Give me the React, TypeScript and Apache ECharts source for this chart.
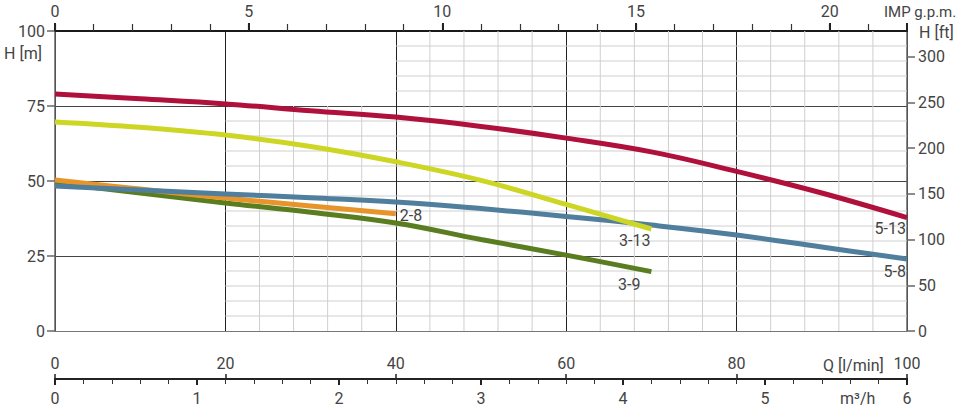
import React, { useEffect, useRef } from "react";
import * as echarts from "echarts";

// Flow (l/min) and head (m) values
const flow513 = [0, 10, 20, 30, 40, 50, 60, 70, 80, 90, 100];
const head513 = [79, 77.4, 75.7, 73.4, 71.3, 68.2, 64.3, 59.7, 53.2, 46, 37.8];
const flow58 = [0, 10, 20, 30, 40, 50, 60, 70, 80, 90, 100];
const head58 = [48.3, 47, 45.7, 44.4, 43, 40.8, 38.2, 35.3, 32, 28, 24];
const flow313 = [0, 10, 20, 30, 40, 50, 60, 70];
const head313 = [69.7, 67.9, 65.3, 61.5, 56.4, 50.2, 42.2, 34];
const flow28 = [0, 10, 20, 30, 40];
const head28 = [50.3, 47.3, 44.3, 41.7, 39.1];
const flow39 = [0, 10, 20, 30, 40, 50, 60, 70];
const head39 = [49.3, 46, 42.7, 39.6, 36, 30.5, 25.3, 19.8];

// fine grid positions
const fineQLow = [24, 28, 32, 36];
const fineQHigh = [44, 48, 52, 56, 64, 68, 72, 76, 84, 88, 92, 96];
const fineHLow = [5, 10, 15, 20, 30, 35, 40, 45, 55, 60, 65, 70];
const fineHHigh = [80, 85, 90, 95];

const Q_MAX = 100;
const H_MAX = 100;
const GPM_MAX = 100 / 4.54609;
const FT_MAX = 100 / 0.3048;
const M3H_MAX = 6;

const FONT = "Roboto";
const TXT = "#444";

export default function App() {
  const ref = useRef<HTMLDivElement>(null);
  useEffect(() => {
    if (!ref.current) return;
    const chart = echarts.init(ref.current, undefined, { renderer: "svg" });

    const gridSegs: number[][] = [];
    fineQLow.forEach((q) => gridSegs.push([q, 0, q, 75]));
    fineQHigh.forEach((q) => gridSegs.push([q, 0, q, 100]));
    fineHLow.forEach((h) => gridSegs.push([20, h, 100, h]));
    fineHHigh.forEach((h) => gridSegs.push([40, h, 100, h]));

    const mk = (qs: number[], hs: number[]) => qs.map((q, i) => [q, hs[i]]);

    const curve = (
      name: string,
      qs: number[],
      hs: number[],
      color: string,
      align: string,
      offset: number[]
    ) => ({
      type: "line",
      name,
      xAxisIndex: 0,
      yAxisIndex: 0,
      data: mk(qs, hs),
      smooth: 0.4,
      showSymbol: false,
      symbol: "none",
      z: 3,
      lineStyle: { color, width: 5, cap: "butt" },
      itemStyle: { color },
      endLabel: {
        show: true,
        formatter: name,
        distance: 0,
        align,
        verticalAlign: "middle",
        offset,
        color: TXT,
        fontSize: 16,
        fontFamily: FONT,
      },
      silent: true,
    });

    const labelStyle = { color: TXT, fontSize: 16, fontFamily: FONT };
    const txt = (text: string, x: number, y: number, size = 16) => ({
      type: "text",
      x,
      y,
      silent: true,
      style: {
        text,
        fill: TXT,
        fontSize: size,
        fontFamily: FONT,
        align: "left",
        verticalAlign: "middle",
        textAlign: "left",
        textVerticalAlign: "middle",
      },
    });

    chart.setOption({
      animation: false,
      grid: { left: 55, right: 53, top: 31, bottom: 81, containLabel: false },
      xAxis: [
        {
          type: "value",
          min: 0,
          max: Q_MAX,
          interval: 20,
          position: "bottom",
          offset: 48,
          axisLine: { show: true, onZero: false, lineStyle: { color: "#222", width: 2 } },
          axisTick: { show: true, inside: true, length: 5, lineStyle: { color: "#222", width: 1.5 } },
          axisLabel: { ...labelStyle, inside: true, margin: 8, showMinLabel: true, showMaxLabel: true },
          splitLine: { show: true, lineStyle: { color: "#222", width: 1 } },
        },
        {
          type: "value",
          min: 0,
          max: M3H_MAX,
          interval: 1,
          position: "bottom",
          offset: 48,
          axisLine: { show: true, onZero: false, lineStyle: { color: "#222", width: 2 } },
          axisTick: { show: true, length: 6, lineStyle: { color: "#222", width: 2 } },
          minorTick: { show: true, splitNumber: 5, length: 5, lineStyle: { color: "#333", width: 1 } },
          axisLabel: { ...labelStyle, margin: 11 },
          splitLine: { show: false },
        },
        {
          type: "value",
          min: 0,
          max: GPM_MAX,
          interval: 1,
          position: "top",
          axisLine: { show: true, onZero: false, lineStyle: { color: "#1a1a1a", width: 2 } },
          axisTick: { show: true, length: 7, lineStyle: { color: "#333", width: 1.2 } },
          axisLabel: {
            ...labelStyle,
            margin: 12,
            showMaxLabel: false,
            formatter: (v: number) => (Math.abs(v % 5) < 1e-6 ? String(v) : ""),
          },
          splitLine: { show: false },
        },
        {
          type: "value",
          min: 0,
          max: GPM_MAX,
          interval: 5,
          position: "top",
          axisLine: { show: false, onZero: false },
          axisTick: { show: true, length: 8, lineStyle: { color: "#222", width: 2 } },
          axisLabel: { show: false },
          splitLine: { show: false },
        },
      ],
      yAxis: [
        {
          type: "value",
          min: 0,
          max: H_MAX,
          interval: 25,
          position: "left",
          axisLine: { show: true, onZero: false, lineStyle: { color: "#666", width: 1.5 } },
          axisTick: { show: true, length: 8, lineStyle: { color: "#666", width: 1.5 } },
          axisLabel: { ...labelStyle, margin: 10 },
          splitLine: {
            show: true,
            lineStyle: { color: ["#777", "#444", "#444", "#444", "#222"], width: 1 },
          },
        },
        {
          type: "value",
          min: 0,
          max: FT_MAX,
          interval: 50,
          position: "right",
          axisLine: { show: true, onZero: false, lineStyle: { color: "#666", width: 1.5 } },
          axisTick: { show: true, length: 8, lineStyle: { color: "#666", width: 1.5 } },
          axisLabel: { ...labelStyle, margin: 11, showMaxLabel: false },
          splitLine: { show: false },
        },
      ],
      graphic: [
        txt("H [m]", 4, 53),
        txt("H [ft]", 919, 32),
        txt("IMP g.p.m.", 884, 12, 15),
        txt("Q [l/min]", 823, 365),
        txt("m³/h", 840, 398),
      ],
      series: [
        {
          type: "custom",
          xAxisIndex: 0,
          yAxisIndex: 0,
          silent: true,
          z: 1,
          encode: { x: [0, 2], y: [1, 3] },
          data: gridSegs,
          renderItem: (params: any, api: any) => {
            const p1 = api.coord([api.value(0), api.value(1)]);
            const p2 = api.coord([api.value(2), api.value(3)]);
            return {
              type: "line",
              shape: { x1: p1[0], y1: p1[1], x2: p2[0], y2: p2[1] },
              style: { stroke: "#cfcfcf", lineWidth: 1 },
            };
          },
        },
        curve("3-9", flow39, head39, "#5a7d1f", "right", [-11, 13]),
        curve("2-8", flow28, head28, "#e7952a", "left", [4, 2]),
        curve("5-8", flow58, head58, "#4f7f9c", "right", [-1, 12]),
        curve("3-13", flow313, head313, "#cdd624", "right", [-1, 11]),
        curve("5-13", flow513, head513, "#b0103c", "right", [-1, 11]),
      ],
    });
    return () => chart.dispose();
  }, []);
  return (
    <div
      ref={ref}
      style={{ position: "absolute", left: 0, top: 0, width: 960, height: 412, background: "#fff" }}
    />
  );
}
